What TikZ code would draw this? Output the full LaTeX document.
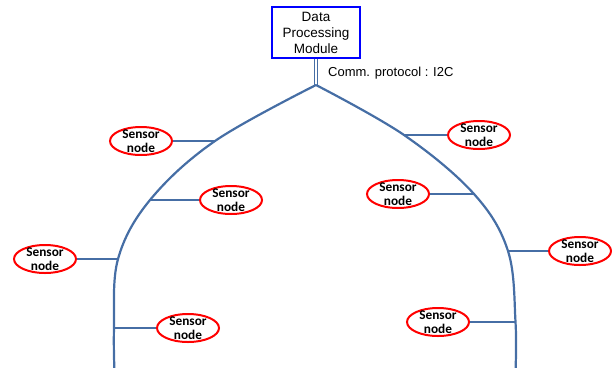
\documentclass[tikz,border=0pt]{standalone}
\usepackage{fontspec}
\setmainfont{Liberation Sans}
\newfontfamily\carl{Carlito}
\usetikzlibrary{shapes.geometric}
\definecolor{linec}{RGB}{70,110,165}
\begin{document}
\begin{tikzpicture}[x=1pt,y=-1pt,
  sensor/.style={ellipse, draw=red, line width=2pt, minimum width=62pt, minimum height=28pt, inner sep=0pt},
  stext/.style={font=\carl\bfseries\fontsize{13.3}{14}\selectfont, align=center, inner sep=0pt},
  bus/.style={draw=linec, line width=2.2pt},
  tap/.style={draw=linec, line width=1.5pt}]
\useasboundingbox (0,0) rectangle (612,367);
\node[draw=blue, line width=2pt, minimum width=88pt, minimum height=51pt, inner sep=0pt, align=center,
  font=\fontsize{13.5}{16}\selectfont] (dpm) at (316,32.5) {Data\\Processing\\Module};
\coordinate (split) at (316,85);
\draw[draw=linec, line width=1.4pt, double=white, double distance=1.2pt] (dpm.south) -- (split);
\node[anchor=west, inner sep=0pt, font=\fontsize{13}{14}\selectfont] (comm) at (328,73) {Comm. protocol : I2C};
% bus points
\coordinate (l1) at (215,141);
\coordinate (l2) at (150,200);
\coordinate (l3) at (118,259);
\coordinate (l4) at (114,328);
\coordinate (lend) at (114.5,372);
\coordinate (r1) at (404,135);
\coordinate (r2) at (474,194);
\coordinate (r3) at (508,251);
\coordinate (r4) at (515.5,322);
\coordinate (rend) at (515.5,372);
\draw[bus] plot[smooth, tension=0.6] coordinates {(split) (l1) (l2) (l3) (l4) (lend)};
\draw[bus] plot[smooth, tension=0.6] coordinates {(split) (r1) (r2) (r3) (r4) (rend)};
% sensors
\node[sensor] (s1) at (141,141) {};
\node[sensor] (s2) at (231,200) {};
\node[sensor] (s3) at (45,259) {};
\node[sensor] (s4) at (188,328) {};
\node[sensor] (s5) at (479,135) {};
\node[sensor] (s6) at (398,194) {};
\node[sensor] (s7) at (580,251) {};
\node[sensor] (s8) at (438,322) {};
\foreach \i in {1,...,8} {\node[stext] (t\i) at (s\i) {Sensor\\node};}
\draw[tap] (s1) -- (l1);
\draw[tap] (s2) -- (l2);
\draw[tap] (s3) -- (l3);
\draw[tap] (s4) -- (l4);
\draw[tap] (s5) -- (r1);
\draw[tap] (s6) -- (r2);
\draw[tap] (s7) -- (r3);
\draw[tap] (s8) -- (r4);
\end{tikzpicture}
\end{document}
